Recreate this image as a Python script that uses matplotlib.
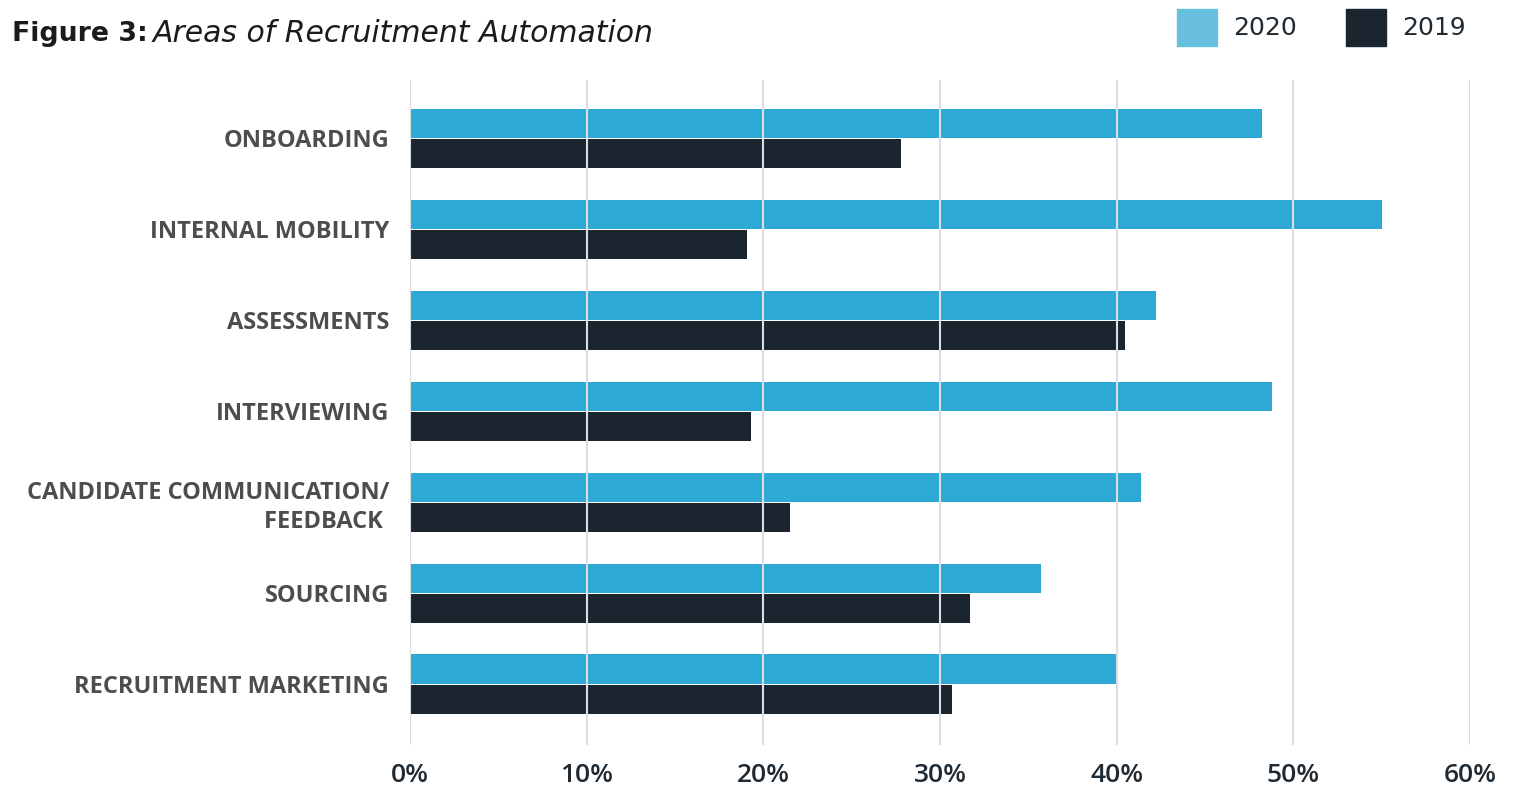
import matplotlib
matplotlib.use("Agg")
import matplotlib.pyplot as plt
from matplotlib.patches import Rectangle
from matplotlib.ticker import FuncFormatter
import numpy as np

categories = [
    "ONBOARDING",
    "INTERNAL MOBILITY",
    "ASSESSMENTS",
    "INTERVIEWING",
    "CANDIDATE COMMUNICATION/\nFEEDBACK ",
    "SOURCING",
    "RECRUITMENT MARKETING",
]
values_2020 = [48.2, 55.0, 42.2, 48.8, 41.4, 35.7, 40.1]
values_2019 = [27.8, 19.1, 40.5, 19.3, 21.5, 31.7, 30.7]
xticks = [0, 10, 20, 30, 40, 50, 60]

C2020 = "#2ea9d6"
C2019 = "#1b2530"
GRID = "#dcdde3"

fig = plt.figure(figsize=(15.14, 7.86), dpi=100)
ax = fig.add_axes([410 / 1514, 1 - 745 / 786, 1060 / 1514, 665 / 786])

y = np.arange(len(categories))
h = 0.32
ax.barh(y - h / 2 - 0.005, values_2020, height=h, color=C2020, zorder=2)
ax.barh(y + h / 2 + 0.005, values_2019, height=h, color=C2019, zorder=2)

ax.set_xlim(0, 60)
ax.set_ylim(6.67, -0.64)
ax.set_xticks(xticks)
ax.xaxis.set_major_formatter(FuncFormatter(lambda v, p: f"{v:.0f}%"))
ax.grid(axis="x", color=GRID, linewidth=1.5, zorder=3)
ax.set_axisbelow(False)
for s in ax.spines.values():
    s.set_visible(False)
ax.tick_params(axis="both", length=0)
ax.tick_params(axis="x", pad=13, labelsize=19, labelcolor="#1f2a33")
ax.tick_params(axis="y", pad=15, labelsize=17, labelcolor="#4d4d4d")
for lab in ax.get_xticklabels():
    lab.set_fontfamily("Open Sans")
    lab.set_fontweight("semibold")
ax.set_yticks(y)
ax.set_yticklabels(categories, fontfamily="Open Sans", fontweight="bold",
                   linespacing=1.25, ha="right")

# Title
fig.text(12 / 1514, 1 - 34 / 786, "Figure 3:", fontsize=19.3, fontweight="bold",
         color="#1b1b1b", family="DejaVu Sans", va="center", ha="left")
fig.text(153 / 1514, 1 - 34 / 786, "Areas of Recruitment Automation", fontsize=21.5,
         style="italic", color="#1b1b1b", family="DejaVu Sans", va="center",
         ha="left", fontweight="light")

# Legend
for x0, col, txt in [(1177, "#67bedd", "2020"), (1346, C2019, "2019")]:
    fig.patches.append(Rectangle((x0 / 1514, 1 - 46 / 786), 40 / 1514, 37 / 786,
                                 transform=fig.transFigure, color=col))
    fig.text((x0 + 56) / 1514, 1 - 28 / 786, txt, fontsize=18, color="#1f2a33",
             family="DejaVu Sans", va="center", ha="left")

fig.savefig("out.png", dpi=100, facecolor="white")
